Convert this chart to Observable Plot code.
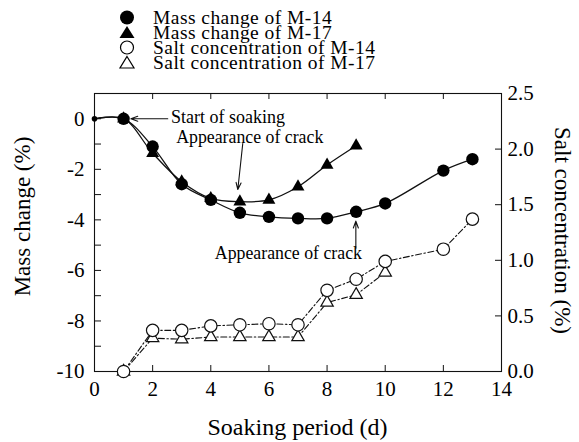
<!DOCTYPE html>
<html>
<head>
<meta charset="utf-8">
<script src="https://cdn.jsdelivr.net/npm/d3@7"></script>
<script src="https://cdn.jsdelivr.net/npm/@observablehq/plot@0.6"></script>
<style>
  html, body { margin: 0; padding: 0; background: #fff; }
  #wrap { position: relative; width: 579px; height: 442px; font-family: "Liberation Serif", serif; color: #000; }
  #wrap svg.plot { position: absolute; left: 0; top: 0; }
  #wrap svg.plot text { font-family: "Liberation Serif", serif; }
  .legend { position: absolute; left: 118px; top: 10px; font-size: 19.5px; line-height: 15px; letter-spacing: 0.45px; }
  .legend div { display: flex; align-items: center; height: 15px; }
  .legend svg { width: 18px; height: 15px; margin-right: 17px; overflow: visible; flex: none; }
  .title { position: absolute; font-size: 23px; white-space: nowrap; line-height: 1; }
</style>
</head>
<body>
<div id="wrap"></div>
<script>
// ---- data ----
const massDays14 = [0, 1, 2, 3, 4, 5, 6, 7, 8, 9, 10, 12, 13];
const mass14     = [0, 0, -1.1, -2.59, -3.21, -3.72, -3.88, -3.94, -3.94, -3.68, -3.35, -2.05, -1.6];
const massDays17 = [0, 1, 2, 3, 4, 5, 6, 7, 8, 9];
const mass17     = [0, 0, -1.36, -2.49, -3.15, -3.28, -3.21, -2.69, -1.83, -1.07];
const saltDays14 = [1, 2, 3, 4, 5, 6, 7, 8, 9, 10, 12, 13];
const salt14     = [0, 0.37, 0.37, 0.41, 0.42, 0.43, 0.42, 0.73, 0.83, 0.99, 1.10, 1.37];
const saltDays17 = [1, 2, 3, 4, 5, 6, 7, 8, 9, 10];
const salt17     = [0, 0.30, 0.29, 0.31, 0.31, 0.31, 0.31, 0.62, 0.69, 0.89];

const xTicks = [0, 2, 4, 6, 8, 10, 12, 14];
const massTicks = [-10, -8, -6, -4, -2, 0];
const massMinor = [-9, -8, -7, -6, -5, -4, -3, -2, -1, 0];
const saltTicks = [0, 0.5, 1.0, 1.5, 2.0, 2.5];

const legendLabels = ["Mass change of M-14", "Mass change of M-17", "Salt concentration of M-14", "Salt concentration of M-17"];

const noteTexts = ["Start of soaking", "Appearance of crack", "Appearance of crack"];
const noteX = [2.63, 5.34, 6.67];
const noteY = [0.06, -0.72, -5.32];
const arrowX1 = [2.52, 5.10, 8.99];
const arrowY1 = [0, -0.98, -5.12];
const arrowX2 = [1.25, 4.93, 8.99];
const arrowY2 = [0, -2.80, -4.05];

// ---- helpers ----
const massMax = 1, massMin = -10, saltMax = 2.5;
const k = (massMax - massMin) / saltMax; // mass units per salt unit
const saltToMass = s => massMin + s * k;
const massToSalt = m => (m - massMin) / k;

const m14 = massDays14.map((d, i) => ({day: d, v: mass14[i]}));
const m17 = massDays17.map((d, i) => ({day: d, v: mass17[i]}));
const s14 = saltDays14.map((d, i) => ({day: d, v: saltToMass(salt14[i])}));
const s17 = saltDays17.map((d, i) => ({day: d, v: saltToMass(salt17[i])}));
const notes = noteTexts.map((t, i) => ({t, x: noteX[i], y: noteY[i]}));
const arrows = arrowX1.map((x, i) => ({x1: x, y1: arrowY1[i], x2: arrowX2[i], y2: arrowY2[i]}));

const W = 579, H = 442, ML = 94, MR = 78, MT = 93, MB = 71;
const FW = W - ML - MR, FH = H - MT - MB;
const dash = "6,2.5,1.5,2.5";
const serif = '"Liberation Serif", serif';

const chart = Plot.plot({
  width: W,
  height: H,
  marginLeft: ML,
  marginRight: MR,
  marginTop: MT,
  marginBottom: MB,
  style: {fontFamily: serif, fontSize: "20px", background: "#fff", color: "#000"},
  x: {domain: [0, 14]},
  y: {domain: [massMin, massMax]},
  marks: [
    Plot.frame({stroke: "#111", strokeWidth: 1.1}),
    // axis labels
    Plot.axisX(xTicks, {anchor: "bottom", tickSize: 0, tickPadding: 10, label: null, fontSize: 21, tickFormat: d => String(d)}),
    Plot.axisY(massTicks, {anchor: "left", tickSize: 0, tickPadding: 10, label: null, fontSize: 21, tickFormat: d => String(d)}),
    Plot.axisY(saltTicks.map(saltToMass), {anchor: "right", tickSize: 0, tickPadding: 6, label: null, fontSize: 21,
      tickFormat: m => massToSalt(m).toFixed(1)}),
    // inward ticks
    Plot.tickX(xTicks.slice(1, -1), {x: d => d, insetTop: FH - 6, stroke: "#111"}),
    Plot.tickX(xTicks.slice(1, -1), {x: d => d, insetBottom: FH - 6, stroke: "#111"}),
    Plot.tickY(massMinor, {y: d => d, insetRight: FW - 7, stroke: "#111"}),
    Plot.tickY(saltTicks.slice(1, -1).map(saltToMass), {y: d => d, insetLeft: FW - 6, stroke: "#111"}),
    // salt lines
    Plot.line(s14, {x: "day", y: "v", stroke: "#111", strokeWidth: 1.1, strokeDasharray: dash}),
    Plot.line(s17, {x: "day", y: "v", stroke: "#111", strokeWidth: 1.1, strokeDasharray: dash}),
    // mass lines
    Plot.line(m17, {x: "day", y: "v", stroke: "#111", strokeWidth: 1.3, curve: "catmull-rom"}),
    Plot.line(m14, {x: "day", y: "v", stroke: "#111", strokeWidth: 1.3, curve: "catmull-rom"}),
    // salt markers
    Plot.dot(s17, {x: "day", y: "v", symbol: "triangle", r: 4.6, fill: "#fff", stroke: "#111", strokeWidth: 1.2}),
    Plot.dot(s14, {x: "day", y: "v", symbol: "circle", r: 6.2, fill: "#fff", stroke: "#111", strokeWidth: 1.2}),
    // mass markers
    Plot.dot(m17.filter(d => d.day > 0), {x: "day", y: "v", symbol: "triangle", r: 4.8, fill: "#000", stroke: "none"}),
    Plot.dot(m14.filter(d => d.day > 0), {x: "day", y: "v", symbol: "circle", r: 6.2, fill: "#000", stroke: "none"}),
    Plot.dot(m14.filter(d => d.day === 0), {x: "day", y: "v", symbol: "circle", r: 2.8, fill: "#000", stroke: "none"}),
    // annotations
    Plot.arrow(arrows, {x1: "x1", y1: "y1", x2: "x2", y2: "y2", stroke: "#111", strokeWidth: 1.1, headLength: 10, headAngle: 40}),
    Plot.text(notes.slice(0, 1), {x: "x", y: "y", text: "t", textAnchor: "start", fontSize: 18, fill: "#000"}),
    Plot.text(notes.slice(1), {x: "x", y: "y", text: "t", textAnchor: "middle", fontSize: 17.8, fill: "#000"})
  ]
});
chart.classList.add("plot");

const wrap = document.getElementById("wrap");
wrap.appendChild(chart);

// legend
const sym = [
  '<circle cx="9" cy="7.5" r="7" fill="#000"/>',
  '<path d="M9,1 L16.5,13 L1.5,13 Z" fill="#000"/>',
  '<circle cx="9" cy="7.5" r="6.5" fill="#fff" stroke="#000" stroke-width="1.2"/>',
  '<path d="M9,1.5 L16,13 L2,13 Z" fill="#fff" stroke="#000" stroke-width="1.2"/>'
];
const legend = document.createElement("div");
legend.className = "legend";
legend.innerHTML = legendLabels.map((l, i) => `<div><svg viewBox="0 0 18 15">${sym[i]}</svg><span>${l}</span></div>`).join("");
wrap.appendChild(legend);

// axis titles
function addTitle(text, cx, cy, rot, size) {
  const s = document.createElement("div");
  s.className = "title";
  s.textContent = text;
  if (size) s.style.fontSize = size + "px";
  wrap.appendChild(s);
  const w = s.offsetWidth, h = s.offsetHeight;
  s.style.left = (cx - w / 2) + "px";
  s.style.top = (cy - h / 2) + "px";
  if (rot) s.style.transform = `rotate(${rot}deg)`;
}
addTitle("Soaking period (d)", 297.5, 427, 0, 24);
addTitle("Mass change (%)", 22.5, 216.5, -90, 23);
addTitle("Salt concentration (%)", 562, 230, 90, 23);
</script>
</body>
</html>
